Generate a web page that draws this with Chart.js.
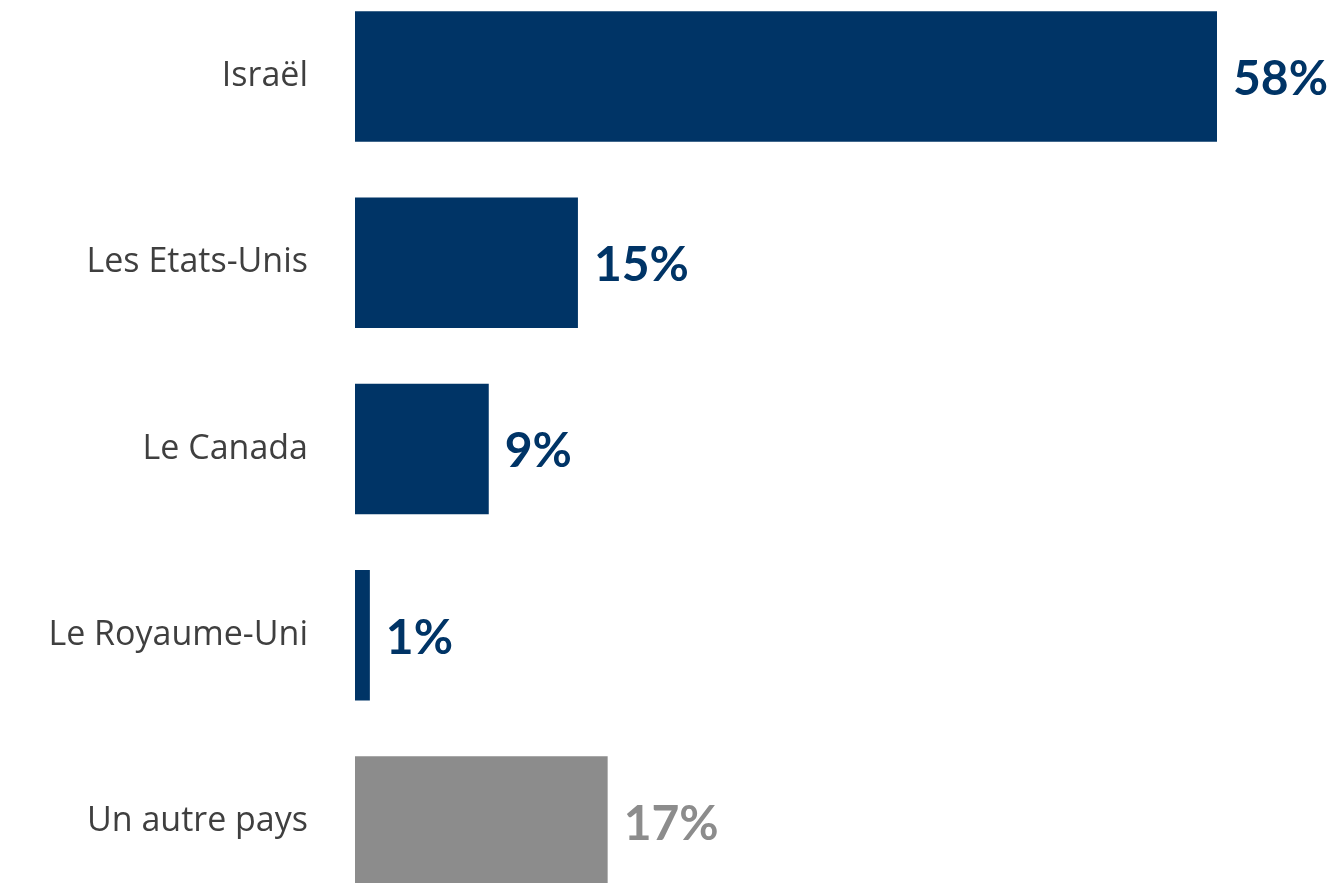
<!DOCTYPE html>
<html>
<head>
<meta charset="utf-8">
<script src="https://cdn.jsdelivr.net/npm/chart.js@4"></script>
<style>
  html, body { margin: 0; padding: 0; background: #fff; overflow: hidden; }
  #wrap { position: absolute; left: 0; top: -76px; width: 1337px; height: 1050px; }
</style>
</head>
<body>
<div id="wrap"><canvas id="myChart"></canvas></div>
<script>
    const countries = ['Israël', 'Les Etats-Unis', 'Le Canada', 'Le Royaume-Uni', 'Un autre pays'];
    const shares = [58, 15, 9, 1, 17];
    const barColors = ['#003466', '#003466', '#003466', '#003466', '#8c8c8c'];

    // draw the % next to each bar
    const valueLabels = {
      id: 'valueLabels',
      afterDatasetsDraw(chart) {
        const ctx = chart.ctx;
        const meta = chart.getDatasetMeta(0);
        ctx.save();
        ctx.font = 'bold 48px Lato, "Open Sans", sans-serif';
        ctx.textBaseline = 'middle';
        ctx.textAlign = 'left';
        meta.data.forEach((bar, i) => {
          ctx.fillStyle = barColors[i];
          ctx.fillText(shares[i] + '%', bar.x + 16, bar.y + 3);
        });
        ctx.restore();
      }
    };

    const data = {
      labels: countries,
      datasets: [{
        data: shares,
        backgroundColor: barColors,
        borderWidth: 0,
        categoryPercentage: 1,
        barPercentage: 0.7
      }]
    };

    const config = {
      type: 'bar',
      data,
      options: {
        indexAxis: 'y',
        responsive: true,
        maintainAspectRatio: false,
        animation: false,
        layout: { padding: 0 },
        plugins: { legend: { display: false }, tooltip: { enabled: false } },
        scales: {
          x: { display: false, min: 0, max: 58 * 1337 / 862 * (982 / 1337) },
          y: {
            grid: { display: false },
            border: { display: false },
            ticks: {
              color: '#3f3f3f',
              padding: 39,
              font: { family: '"Open Sans", sans-serif', size: 34 }
            },
            afterFit(scale) { scale.width = 355; }
          }
        }
      },
      plugins: [valueLabels]
    };

    const myChart = new Chart(document.getElementById('myChart'), config);
</script>
</body>
</html>
